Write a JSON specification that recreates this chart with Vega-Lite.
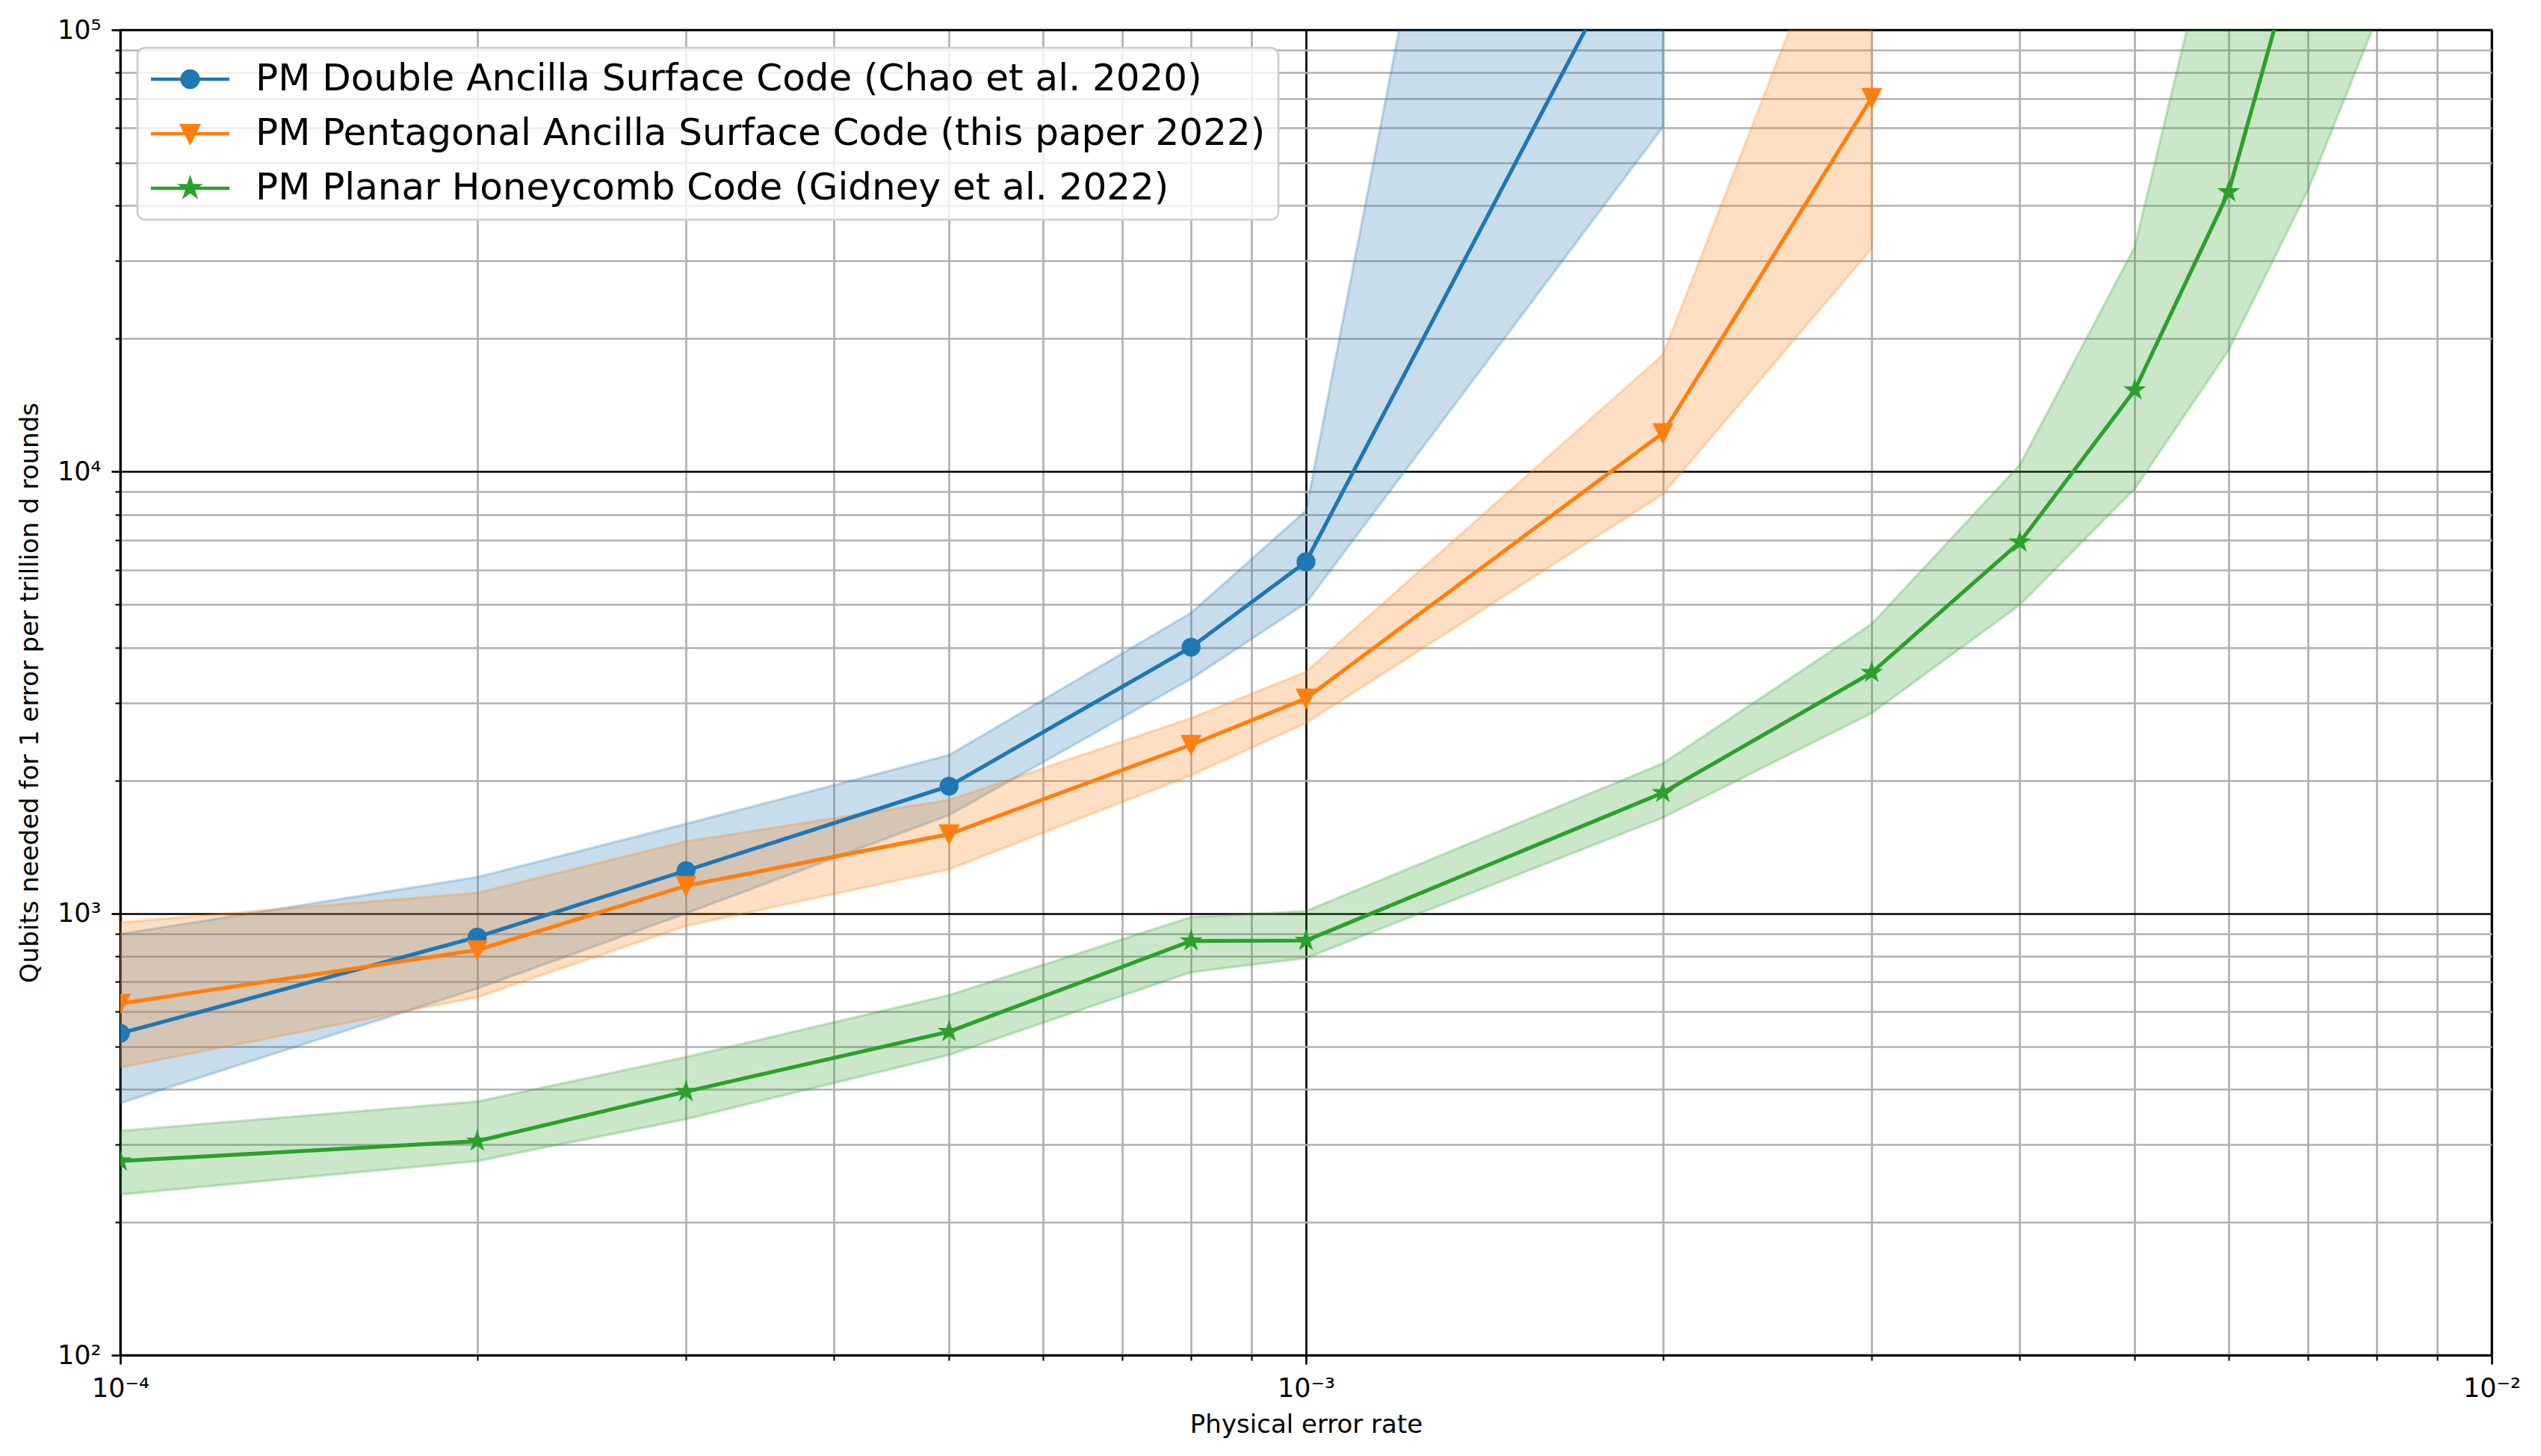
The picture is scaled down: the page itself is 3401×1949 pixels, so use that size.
{
  "$schema": "https://vega.github.io/schema/vega-lite/v6.json",
  "width": 3174,
  "height": 1774,
  "autosize": {"type": "none"},
  "padding": {"left": 161, "top": 40, "right": 66, "bottom": 135},
  "background": "white",
  "config": {
    "view": {"stroke": "black", "strokeWidth": 2.7},
    "legend": {
      "symbolSize": 480,
      "symbolStrokeWidth": 4.5,
      "symbolOpacity": 1,
      "labelFont": "DejaVu Sans",
      "labelFontSize": 50,
      "labelColor": "black",
      "labelLimit": 3000,
      "labelOffset": 91,
      "rowPadding": 23,
      "padding": 17,
      "fillColor": "rgba(255,255,255,0.8)",
      "strokeColor": "#cccccc",
      "strokeWidth": 2.7,
      "cornerRadius": 10
    }
  },
  "data": {
    "values": [
      {"series": "PM Double Ancilla Surface Code (Chao et al. 2020)", "p": 0.0001, "q": 535, "lo": 372, "hi": 898},
      {"series": "PM Double Ancilla Surface Code (Chao et al. 2020)", "p": 0.0002, "q": 884, "lo": 676, "hi": 1208},
      {"series": "PM Double Ancilla Surface Code (Chao et al. 2020)", "p": 0.0003, "q": 1250, "lo": 1000, "hi": 1595},
      {"series": "PM Double Ancilla Surface Code (Chao et al. 2020)", "p": 0.0005, "q": 1941, "lo": 1669, "hi": 2282},
      {"series": "PM Double Ancilla Surface Code (Chao et al. 2020)", "p": 0.0008, "q": 4005, "lo": 3396, "hi": 4790},
      {"series": "PM Double Ancilla Surface Code (Chao et al. 2020)", "p": 0.001, "q": 6250, "lo": 5040, "hi": 8160},
      {"series": "PM Double Ancilla Surface Code (Chao et al. 2020)", "p": 0.002, "q": 216000, "lo": 60300, "hi": 120000000},
      {"series": "PM Pentagonal Ancilla Surface Code (this paper 2022)", "p": 0.0001, "q": 625, "lo": 448, "hi": 955},
      {"series": "PM Pentagonal Ancilla Surface Code (this paper 2022)", "p": 0.0002, "q": 826, "lo": 646, "hi": 1113},
      {"series": "PM Pentagonal Ancilla Surface Code (this paper 2022)", "p": 0.0003, "q": 1155, "lo": 937, "hi": 1455},
      {"series": "PM Pentagonal Ancilla Surface Code (this paper 2022)", "p": 0.0005, "q": 1511, "lo": 1258, "hi": 1806},
      {"series": "PM Pentagonal Ancilla Surface Code (this paper 2022)", "p": 0.0008, "q": 2409, "lo": 2054, "hi": 2767},
      {"series": "PM Pentagonal Ancilla Surface Code (this paper 2022)", "p": 0.001, "q": 3067, "lo": 2697, "hi": 3522},
      {"series": "PM Pentagonal Ancilla Surface Code (this paper 2022)", "p": 0.002, "q": 12236, "lo": 8894, "hi": 18400},
      {"series": "PM Pentagonal Ancilla Surface Code (this paper 2022)", "p": 0.003, "q": 70200, "lo": 32000, "hi": 300000},
      {"series": "PM Planar Honeycomb Code (Gidney et al. 2022)", "p": 0.0001, "q": 275, "lo": 231, "hi": 322},
      {"series": "PM Planar Honeycomb Code (Gidney et al. 2022)", "p": 0.0002, "q": 305, "lo": 275, "hi": 375},
      {"series": "PM Planar Honeycomb Code (Gidney et al. 2022)", "p": 0.0003, "q": 395, "lo": 342, "hi": 473},
      {"series": "PM Planar Honeycomb Code (Gidney et al. 2022)", "p": 0.0005, "q": 540, "lo": 478, "hi": 653},
      {"series": "PM Planar Honeycomb Code (Gidney et al. 2022)", "p": 0.0008, "q": 866, "lo": 736, "hi": 981},
      {"series": "PM Planar Honeycomb Code (Gidney et al. 2022)", "p": 0.001, "q": 868, "lo": 792, "hi": 1012},
      {"series": "PM Planar Honeycomb Code (Gidney et al. 2022)", "p": 0.002, "q": 1876, "lo": 1647, "hi": 2186},
      {"series": "PM Planar Honeycomb Code (Gidney et al. 2022)", "p": 0.003, "q": 3508, "lo": 2840, "hi": 4520},
      {"series": "PM Planar Honeycomb Code (Gidney et al. 2022)", "p": 0.004, "q": 6925, "lo": 4995, "hi": 10366},
      {"series": "PM Planar Honeycomb Code (Gidney et al. 2022)", "p": 0.005, "q": 15300, "lo": 9143, "hi": 32300},
      {"series": "PM Planar Honeycomb Code (Gidney et al. 2022)", "p": 0.006, "q": 42960, "lo": 18840, "hi": 249000},
      {"series": "PM Planar Honeycomb Code (Gidney et al. 2022)", "p": 0.007, "q": 188000, "lo": 43410, "hi": 1000000},
      {"series": "PM Planar Honeycomb Code (Gidney et al. 2022)", "p": 0.008, "q": 600000, "lo": 106000, "hi": 5000000}
    ]
  },
  "encoding": {
    "x": {
      "field": "p",
      "type": "quantitative",
      "title": "Physical error rate",
      "scale": {"type": "log", "domain": [0.0001, 0.01], "nice": false},
      "axis": {
        "values": [0.0001, 0.0002, 0.0003, 0.0004, 0.0005, 0.0006, 0.0007, 0.0008, 0.0009, 0.001, 0.002, 0.003, 0.004, 0.005, 0.006, 0.007, 0.008, 0.009, 0.01],
        "labelExpr": "abs(datum.value - 0.0001) < 1e-9 ? '10⁻⁴' : abs(datum.value - 0.001) < 1e-9 ? '10⁻³' : abs(datum.value - 0.01) < 1e-9 ? '10⁻²' : ''",
        "grid": true,
        "gridWidth": 2.7,
        "gridColor": {"condition": {"test": "abs(log(datum.value)/LN10 - round(log(datum.value)/LN10)) < 0.001", "value": "black"}, "value": "#b0b0b0"},
        "tickColor": "black",
        "tickWidth": {"condition": {"test": "abs(log(datum.value)/LN10 - round(log(datum.value)/LN10)) < 0.001", "value": 2.7}, "value": 2.1},
        "tickSize": {"condition": {"test": "abs(log(datum.value)/LN10 - round(log(datum.value)/LN10)) < 0.001", "value": 12}, "value": 7},
        "domainColor": "black",
        "domainWidth": 2.7,
        "labelFont": "DejaVu Sans",
        "labelFontSize": 35,
        "labelColor": "black",
        "labelBaseline": "top",
        "labelPadding": 15,
        "labelOverlap": false,
        "labelFlush": false,
        "labelBound": false,
        "titleFont": "DejaVu Sans",
        "titleFontSize": 34,
        "titleFontWeight": "normal",
        "titleColor": "black",
        "titleX": 1587,
        "titleY": 103,
        "titleBaseline": "alphabetic",
        "titleAlign": "center"
      }
    },
    "color": {
      "field": "series",
      "type": "nominal",
      "scale": {
        "domain": ["PM Double Ancilla Surface Code (Chao et al. 2020)", "PM Pentagonal Ancilla Surface Code (this paper 2022)", "PM Planar Honeycomb Code (Gidney et al. 2022)"],
        "range": ["#1f77b4", "#ff7f0e", "#2ca02c"]
      },
      "legend": {"title": null, "orient": "none", "legendX": 23, "legendY": 24}
    },
    "stroke": {
      "field": "series",
      "type": "nominal",
      "scale": {
        "domain": ["PM Double Ancilla Surface Code (Chao et al. 2020)", "PM Pentagonal Ancilla Surface Code (this paper 2022)", "PM Planar Honeycomb Code (Gidney et al. 2022)"],
        "range": ["#1f77b4", "#ff7f0e", "#2ca02c"]
      },
      "legend": {"title": null, "orient": "none", "legendX": 23, "legendY": 24}
    }
  },
  "layer": [
    {
      "mark": {"type": "area", "clip": true, "fillOpacity": 0.25, "strokeOpacity": 0.25, "strokeWidth": 3.4},
      "encoding": {
        "y": {
          "field": "lo",
          "type": "quantitative",
          "title": "Qubits needed for 1 error per trillion d rounds",
          "scale": {"type": "log", "domain": [100, 100000], "nice": false},
          "axis": {
            "values": [100, 200, 300, 400, 500, 600, 700, 800, 900, 1000, 2000, 3000, 4000, 5000, 6000, 7000, 8000, 9000, 10000, 20000, 30000, 40000, 50000, 60000, 70000, 80000, 90000, 100000],
            "labelExpr": "datum.value == 100 ? '10²' : datum.value == 1000 ? '10³' : datum.value == 10000 ? '10⁴' : datum.value == 100000 ? '10⁵' : ''",
            "grid": true,
            "gridWidth": 2.7,
            "gridColor": {"condition": {"test": "abs(log(datum.value)/LN10 - round(log(datum.value)/LN10)) < 0.001", "value": "black"}, "value": "#b0b0b0"},
            "tickColor": "black",
            "tickWidth": {"condition": {"test": "abs(log(datum.value)/LN10 - round(log(datum.value)/LN10)) < 0.001", "value": 2.7}, "value": 2.1},
            "tickSize": {"condition": {"test": "abs(log(datum.value)/LN10 - round(log(datum.value)/LN10)) < 0.001", "value": 12}, "value": 7},
            "domainColor": "black",
            "domainWidth": 2.7,
            "labelFont": "DejaVu Sans",
            "labelFontSize": 35,
            "labelColor": "black",
            "labelBaseline": "middle",
            "labelAlign": "right",
            "labelPadding": 14,
            "labelOverlap": false,
            "labelFlush": false,
            "labelBound": false,
            "titleFont": "DejaVu Sans",
            "titleFontSize": 34,
            "titleFontWeight": "normal",
            "titleColor": "black",
            "titleX": -111,
            "titleY": 887,
            "titleAngle": -90,
            "titleBaseline": "alphabetic",
            "titleAlign": "center"
          }
        },
        "y2": {"field": "hi"}
      }
    },
    {
      "mark": {"type": "line", "clip": true, "strokeWidth": 5.2},
      "encoding": {
        "y": {"field": "q", "type": "quantitative", "title": "Qubits needed for 1 error per trillion d rounds"}
      }
    },
    {
      "transform": [{"filter": "datum.series === 'PM Double Ancilla Surface Code (Chao et al. 2020)'"}],
      "mark": {"type": "point", "clip": true, "filled": true, "size": 500, "strokeWidth": 3, "opacity": 1, "shape": "M1,0A1,1,0,1,1,-1,0A1,1,0,1,1,1,0Z"},
      "encoding": {
        "y": {"field": "q", "type": "quantitative", "title": "Qubits needed for 1 error per trillion d rounds"}
      }
    },
    {
      "transform": [{"filter": "datum.series === 'PM Pentagonal Ancilla Surface Code (this paper 2022)'"}],
      "mark": {"type": "point", "clip": true, "filled": true, "size": 540, "strokeWidth": 3, "opacity": 1, "shape": "M-1,-1L1,-1L0,1Z"},
      "encoding": {
        "y": {"field": "q", "type": "quantitative", "title": "Qubits needed for 1 error per trillion d rounds"}
      }
    },
    {
      "transform": [{"filter": "datum.series === 'PM Planar Honeycomb Code (Gidney et al. 2022)'"}],
      "mark": {"type": "point", "clip": true, "filled": true, "size": 500, "strokeWidth": 3, "opacity": 1, "shape": "M0,-1L0.2245,-0.309L0.9511,-0.309L0.3633,0.118L0.5878,0.809L0,0.382L-0.5878,0.809L-0.3633,0.118L-0.9511,-0.309L-0.2245,-0.309Z"},
      "encoding": {
        "y": {"field": "q", "type": "quantitative", "title": "Qubits needed for 1 error per trillion d rounds"}
      }
    },
    {
      "transform": [{"filter": "false"}],
      "mark": {"type": "point", "clip": true, "filled": true, "strokeWidth": 4.5, "opacity": 1},
      "encoding": {
        "y": {"field": "q", "type": "quantitative", "title": "Qubits needed for 1 error per trillion d rounds"},
        "shape": {
          "field": "series",
          "type": "nominal",
          "scale": {
            "domain": ["PM Double Ancilla Surface Code (Chao et al. 2020)", "PM Pentagonal Ancilla Surface Code (this paper 2022)", "PM Planar Honeycomb Code (Gidney et al. 2022)"],
            "range": [
              "M-2.19,0L7.4,0M3.6,0A1,1,0,1,1,1.6,0A1,1,0,1,1,3.6,0Z",
              "M-2.19,0L7.4,0M1.6,-1L3.6,-1L2.6,1Z",
              "M-2.19,0L7.4,0M2.6,-1L2.8245,-0.309L3.5511,-0.309L2.9633,0.118L3.1878,0.809L2.6,0.382L2.0122,0.809L2.2367,0.118L1.6489,-0.309L2.3755,-0.309Z"
            ]
          },
          "legend": {"title": null, "orient": "none", "legendX": 23, "legendY": 24}
        }
      }
    }
  ]
}
